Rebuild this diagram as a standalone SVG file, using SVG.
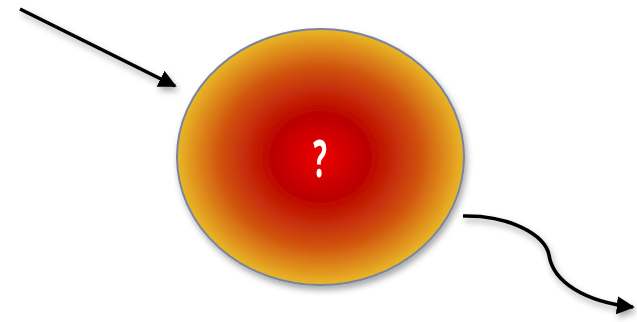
<svg xmlns="http://www.w3.org/2000/svg" width="637" height="322" viewBox="0 0 637 322">
<style>
.conn{fill:none;stroke:#000;stroke-width:3.6;}
.lbl{font-family:"Open Sans","Liberation Sans",sans-serif;font-weight:bold;font-size:52px;fill:#fff;}
</style>
<defs>
<radialGradient id="g" cx="50%" cy="50%" r="50%">
<stop offset="0" stop-color="#ee0000"/>
<stop offset="0.33" stop-color="#bb0000"/>
<stop offset="0.7" stop-color="#d0530e"/>
<stop offset="1" stop-color="#e9b826"/>
</radialGradient>
<filter id="sh" x="-20%" y="-20%" width="140%" height="140%">
<feDropShadow dx="2" dy="4" stdDeviation="3" flood-color="#000" flood-opacity="0.35"/>
</filter>
<marker id="ah" viewBox="0 0 10 10" refX="9" refY="5" markerWidth="5" markerHeight="5" orient="auto" markerUnits="strokeWidth">
<path d="M0,0 L10,5 L0,10 z" fill="#000"/>
</marker>
</defs>
<g id="node-core" filter="url(#sh)">
<ellipse cx="320.5" cy="157" rx="143.5" ry="128" fill="url(#g)" stroke="#7a84a0" stroke-width="2"/>
<text class="lbl" x="0" y="0" text-anchor="middle" transform="translate(320,177) scale(0.55,1)">?</text>
</g>
<g id="connectors" filter="url(#sh)">
<path class="conn" d="M20,9 L175,86" marker-end="url(#ah)"/>
<path class="conn" d="M463,216 C510,215 545,235 549,255 C553,282 585,302 633,307" marker-end="url(#ah)"/>
</g>
</svg>
